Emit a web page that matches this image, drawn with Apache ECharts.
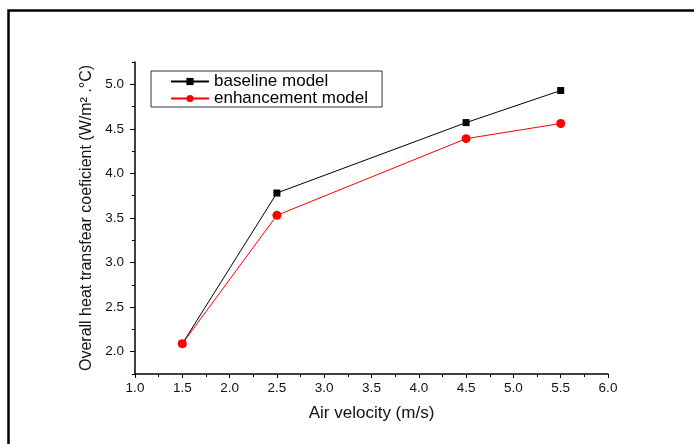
<!DOCTYPE html>
<html>
<head>
<meta charset="utf-8">
<script src="https://cdn.jsdelivr.net/npm/echarts@6/dist/echarts.min.js"></script>
<style>html,body{margin:0;padding:0;background:#fff}#c{width:694px;height:444px}</style>
</head>
<body>
<div id="c"></div>
<script>
const airVelocity = [1.5, 2.5, 4.5, 5.5];
const baseline = [2.09, 3.78, 4.57, 4.93];
const enhancement = [2.09, 3.53, 4.39, 4.56];
const seriesNames = ['baseline model', 'enhancement model'];
const yMajorTicks = [2.0, 2.5, 3.0, 3.5, 4.0, 4.5, 5.0];

const pair = (xs, ys) => xs.map((x, i) => [x, ys[i]]);
const font = 'Liberation Sans, Arial, sans-serif';
const chart = echarts.init(document.getElementById('c'));
chart.setOption({
  animation: false,
  backgroundColor: '#fff',
  grid: { left: 135, right: 86, top: 62, bottom: 70 },
  graphic: [{
    type: 'rect', shape: { x: 8.5, y: 10.5, width: 900, height: 600 },
    style: { fill: null, stroke: '#000', lineWidth: 2.5 }, silent: true
  }],
  legend: {
    orient: 'vertical', left: 151, top: 71,
    borderColor: '#333', borderWidth: 1,
    padding: [2, 14, 0, 19], itemGap: 0,
    itemWidth: 38, itemHeight: 9,
    textStyle: { fontFamily: font, fontSize: 17, color: '#000', lineHeight: 16 },
    data: seriesNames
  },
  xAxis: {
    type: 'value', min: 1.0, max: 6.0, interval: 0.5,
    name: 'Air velocity (m/s)', nameLocation: 'middle', nameGap: 31,
    nameTextStyle: { fontFamily: font, fontSize: 17, color: '#111' },
    axisLine: { show: true, lineStyle: { color: '#000', width: 1.5 } },
    axisTick: { show: true, inside: false, length: 4, lineStyle: { color: '#000' } },
    minorTick: { show: true, splitNumber: 2, length: 3, lineStyle: { color: '#000' } },
    axisLabel: { fontFamily: font, fontSize: 13.5, color: '#111', margin: 7,
      formatter: v => v.toFixed(1) },
    splitLine: { show: false }
  },
  yAxis: [{
    type: 'value', min: 1.75, max: 5.25, interval: 0.25,
    name: 'Overall heat transfear coeficient (W/m\u00B2 .\u00B0C)',
    nameLocation: 'middle', nameGap: 40, nameRotate: 90,
    nameTextStyle: { fontFamily: font, fontSize: 16, color: '#111' },
    axisLine: { show: true, lineStyle: { color: '#000', width: 1.5 } },
    axisTick: { show: true, inside: false, length: 3, lineStyle: { color: '#000' } },
    axisLabel: { fontFamily: font, fontSize: 13.5, color: '#111', margin: 11,
      formatter: v => (Math.abs(v * 2 - Math.round(v * 2)) < 1e-6) ? v.toFixed(1) : '' },
    splitLine: { show: false }
  }, {
    type: 'value', min: 1.75, max: 5.25, position: 'left',
    axisLine: { show: false },
    axisTick: { show: true, inside: false, length: 5, customValues: yMajorTicks, lineStyle: { color: '#000' } },
    axisLabel: { show: false },
    splitLine: { show: false }
  }],
  series: [{
    name: seriesNames[0], type: 'line', data: pair(airVelocity, baseline),
    symbol: 'rect', symbolSize: 7, showAllSymbol: true,
    lineStyle: { color: '#000', width: 1 }, itemStyle: { color: '#000' }
  }, {
    name: seriesNames[1], type: 'line', data: pair(airVelocity, enhancement),
    symbol: 'circle', symbolSize: 9,
    lineStyle: { color: '#ff0000', width: 1 }, itemStyle: { color: '#ff0000' }
  }]
});
</script>
</body>
</html>
